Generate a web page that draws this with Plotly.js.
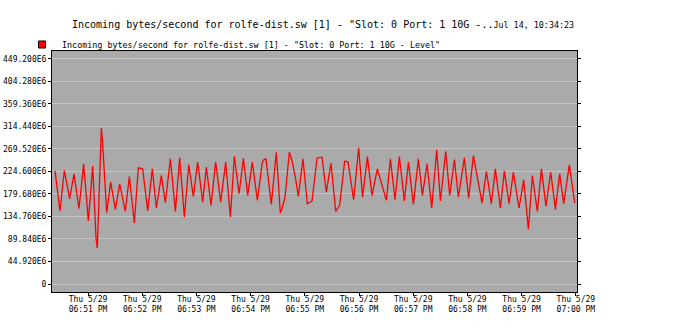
<!DOCTYPE html>
<html>
<head>
<meta charset="utf-8">
<script src="https://cdn.plot.ly/plotly-3.0.1.min.js"></script>
<style>
  html, body { margin: 0; padding: 0; background: #ffffff; }
  #chart { width: 686px; height: 333px; }
</style>
</head>
<body>
<div id="chart"></div>
<script>
// Time of each sample, seconds after 18:50:00 on Thu 5/29
const sampleSeconds = [
  23.5, 29.0, 33.8, 39.7, 44.5, 50.0, 55.2, 60.4, 65.2, 68.9, 70.3, 74.8, 75.9, 80.7, 85.1, 90.3, 95.1, 101.3, 105.8, 111.3, 115.7, 120.5, 126.1, 131.2, 135.7,
  141.2, 145.6, 151.2, 156.7, 161.5, 166.7, 171.5, 176.6, 181.4, 187.0, 191.0, 196.2, 201.3, 206.9, 212.4, 217.6, 222.0, 227.2, 232.0, 236.8, 241.9, 247.5, 253.0,
  254.4, 257.0, 262.9, 268.5, 272.9, 274.7, 278.1, 282.9, 285.8, 289.5, 292.8, 298.0, 302.8, 308.0, 313.5, 319.0, 323.8, 329.0, 334.2, 338.6, 344.1, 347.8, 354.1, 359.6, 364.0,
  369.3, 374.4, 380.3, 390.3, 394.7, 399.9, 404.7, 410.2, 414.7, 420.2, 425.7, 430.2, 435.3, 440.5, 446.0, 450.1, 456.0, 460.4, 465.6, 470.0, 476.6, 481.4,
  486.6, 496.2, 501.0, 506.5, 510.9, 516.5, 520.9, 526.1, 530.9, 537.1, 542.3, 547.5, 551.9, 557.4, 561.9, 567.0, 572.2, 577.4, 582.1, 586.6, 592.8, 598.8
];
// Incoming bytes/second, in millions (E6)
const incomingBytesE6 = [
  225.0, 145.5, 226.3, 170.0, 219.7, 150.2, 239.6, 125.6, 235.0, 90.5, 71.9, 311.1, 289.3, 142.2, 203.1, 148.8, 199.8, 144.8, 214.4, 121.6, 231.6, 229.6, 145.5, 229.6, 151.5,
  216.4, 162.1, 249.5, 144.8, 251.5, 133.6, 238.2, 174.6, 242.9, 163.4, 233.0, 156.7, 242.9, 163.4, 242.9, 133.6, 254.8, 179.9, 250.8, 176.6, 242.9, 166.7, 242.9,
  247.5, 249.5, 158.7, 262.8, 141.5, 150.1, 173.3, 262.8, 246.2, 213.1, 174.6, 249.5, 160.1, 165.4, 250.8, 252.8, 183.3, 240.9, 144.8, 156.8, 244.9, 243.6, 168.0, 271.4, 173.3,
  254.0, 176.6, 229.6, 166.7, 249.5, 168.0, 254.1, 165.4, 242.9, 158.7, 249.5, 176.6, 239.6, 151.5, 267.4, 165.4, 264.8, 176.6, 248.2, 173.3, 251.5, 171.3,
  256.1, 161.4, 224.4, 160.1, 229.6, 151.5, 225.0, 160.1, 223.0, 151.5, 207.8, 109.1, 216.4, 144.8, 229.6, 154.8, 223.0, 148.8, 219.7, 160.1, 237.6, 161.4
];

const xTickSeconds = [60, 120, 180, 240, 300, 360, 420, 480, 540, 600];
const xTickDay = ["Thu 5/29", "Thu 5/29", "Thu 5/29", "Thu 5/29", "Thu 5/29", "Thu 5/29", "Thu 5/29", "Thu 5/29", "Thu 5/29", "Thu 5/29"];
const xTickTime = ["06:51 PM", "06:52 PM", "06:53 PM", "06:54 PM", "06:55 PM", "06:56 PM", "06:57 PM", "06:58 PM", "06:59 PM", "07:00 PM"];

const yTickValuesE6 = [0, 44.92, 89.84, 134.76, 179.68, 224.6, 269.52, 314.44, 359.36, 404.28, 449.2];
const yTickLabels = ["0", "44.920E6", "89.840E6", "134.760E6", "179.680E6", "224.600E6", "269.520E6", "314.440E6", "359.360E6", "404.280E6", "449.200E6"];

const chartTitle = 'Incoming bytes/second for rolfe-dist.sw [1] - "Slot: 0 Port: 1 10G -..';
const chartStamp = 'Jul 14, 10:34:23';
const seriesName = 'Incoming bytes/second for rolfe-dist.sw [1] - "Slot: 0 Port: 1 10G - Level"';

const mono = 'DejaVu Sans Mono, monospace';

const traces = [
  {
    x: sampleSeconds,
    y: incomingBytesE6,
    type: 'scatter',
    mode: 'lines',
    line: { color: '#ff0000', width: 1.3 },
    showlegend: false,
    hoverinfo: 'skip'
  },
  {
    x: [null],
    y: [null],
    type: 'scatter',
    mode: 'markers',
    name: seriesName,
    marker: { symbol: 'square', size: 7, color: '#ff0000', line: { color: '#000000', width: 1 } },
    showlegend: true
  }
];

const layout = {
  width: 686,
  height: 333,
  margin: { l: 52, r: 109, t: 51, b: 41, pad: 0 },
  paper_bgcolor: '#ffffff',
  plot_bgcolor: '#aaaaaa',
  font: { family: mono, size: 8, color: '#000000' },
  title: {
    text: chartTitle + '<span style="font-size:8.4px">' + chartStamp + '</span>',
    font: { family: mono, size: 10, color: '#000000' },
    x: 72 / 686,
    xanchor: 'left',
    y: 1 - 24 / 333,
    yanchor: 'middle'
  },
  showlegend: true,
  legend: {
    x: -30 / 525,
    xanchor: 'left',
    y: 1 + (51 - 44.5) / 241,
    yanchor: 'middle',
    font: { family: mono, size: 8.4, color: '#000000' },
    bgcolor: 'rgba(0,0,0,0)',
    borderwidth: 0
  },
  xaxis: {
    type: 'linear',
    range: [20.15, 601.3],
    tickvals: xTickSeconds,
    ticktext: xTickSeconds.map((v, i) => xTickDay[i] + '<br>' + xTickTime[i]),
    showgrid: false,
    zeroline: false,
    showline: true,
    linecolor: '#000000',
    linewidth: 1,
    mirror: true,
    ticks: 'outside',
    ticklen: 3,
    tickcolor: '#000000',
    tickfont: { family: mono, size: 8, color: '#000000' },
    ticklabelstandoff: -4,
    tickangle: 0
  },
  yaxis: {
    range: [-15.95, 464.6],
    tickvals: yTickValuesE6,
    ticktext: yTickLabels,
    showgrid: true,
    gridcolor: '#c6c6c6',
    gridwidth: 1,
    zeroline: false,
    showline: true,
    linecolor: '#000000',
    linewidth: 1,
    mirror: 'ticks',
    ticks: 'outside',
    ticklen: 3,
    tickcolor: '#000000',
    tickfont: { family: mono, size: 8, color: '#000000' }
  }
};

Plotly.newPlot('chart', traces, layout, { staticPlot: true, displayModeBar: false });
</script>
</body>
</html>
